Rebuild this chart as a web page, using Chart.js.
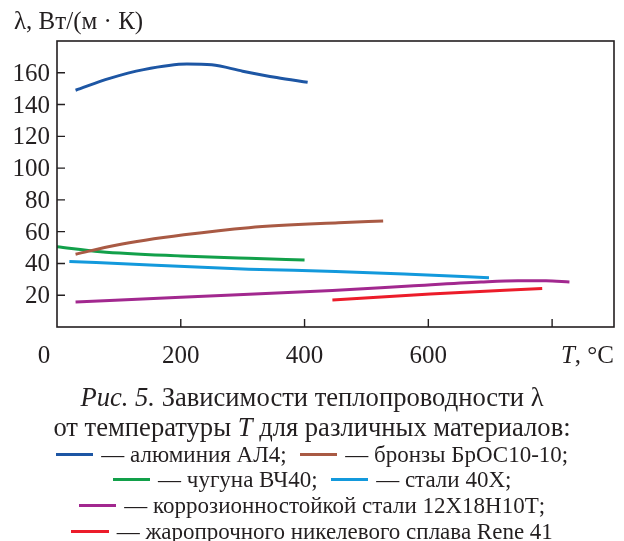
<!DOCTYPE html>
<html>
<head>
<meta charset="utf-8">
<script src="https://cdn.jsdelivr.net/npm/chart.js@4"></script>
<style>
  html, body { margin:0; padding:0; background:#fff; }
  body { width:624px; height:541px; position:relative; overflow:hidden; font-family:"Liberation Serif", serif; color:#231f20; }
  #wrap { position:absolute; left:0; top:0; width:624px; height:375px; }
  #labels { position:absolute; left:0; top:0; width:624px; height:375px; pointer-events:none; font-size:25px; line-height:26px; }
  #labels span { position:absolute; white-space:nowrap; }
  #caption div { position:absolute; left:0; width:624px; text-align:center; line-height:30px; white-space:nowrap; }
  .head { font-size:26.6px; }
  .leg { font-size:23px; }
  .dash { display:inline-block; width:37.5px; height:3px; vertical-align:middle; margin-right:8px; position:relative; top:-2px; }
  .gap { margin-left:13px; }
</style>
</head>
<body>
<div id="wrap"><canvas id="chart"></canvas><div id="labels"></div></div>
<div id="caption"></div>
<script>
// temperature T, °C and conductivity λ, W/(m·K)
const alT  = [30, 85, 140, 210, 250, 300, 355, 405];
const alL  = [149, 156.5, 162, 165.5, 165, 161, 157, 154];
const brT  = [30, 95, 205, 310, 455, 527];
const brL  = [45.8, 51.5, 58, 62.5, 65.6, 66.7];
const ciT  = [0, 70, 200, 310, 400];
const ciL  = [50.5, 47.4, 44.7, 43.2, 42.2];
const stT  = [20, 150, 310, 450, 570, 698];
const stL  = [41.3, 39, 36.4, 35, 33.2, 31];
const ssT  = [30, 200, 445, 570, 685, 745, 790, 828];
const ssL  = [15.7, 18.7, 23, 25.8, 28.3, 29.1, 29.1, 28.3];
const reT  = [445, 603, 784];
const reL  = [17, 20.8, 24.3];

const names  = ['алюминия АЛ4', 'бронзы БрОС10-10', 'чугуна ВЧ40', 'стали 40Х', 'коррозионностойкой стали 12Х18Н10Т', 'жаропрочного никелевого сплава Rene 41'];
const colors = ['#1d56a4', '#a95a44', '#12a04a', '#1399dc', '#a2288f', '#ec1c2a'];
const xTicks = [0, 200, 400, 600, 800];
const yTicks = [20, 40, 60, 80, 100, 120, 140, 160];

const INK = '#231f20';
const pts = (xs, ys) => xs.map((x, i) => ({ x, y: ys[i] }));
const series = [[alT, alL], [brT, brL], [ciT, ciL], [stT, stL], [ssT, ssL], [reT, reL]];

// caption with legend swatches (tops set so baselines match the figure)
const dash = (i, cls) => `<span class="dash${cls ? ' ' + cls : ''}" style="background:${colors[i]}"></span>`;
const item = (i, cls) => `${dash(i, cls)}— ${names[i]}`;
const capLines = [
  ['head', 381.7, '<i>Рис. 5.</i> Зависимости теплопроводности λ'],
  ['head', 411.7, 'от температуры <i>T</i> для различных материалов:'],
  ['leg', 439.7, `${item(0)};${item(1, 'gap')};`],
  ['leg', 465, `${item(2)};${item(3, 'gap')};`],
  ['leg', 491.2, `${item(4)};`],
  ['leg', 517.2, `${item(5)}`]
];
document.getElementById('caption').innerHTML =
  capLines.map(([cls, top, html]) => `<div class="${cls}" style="top:${top}px">${html}</div>`).join('');

// frame, inner ticks and tick labels placed from the scales
const decor = {
  id: 'decor',
  afterDraw(c) {
    const ctx = c.ctx, a = c.chartArea, xs = c.scales.x, ys = c.scales.y;
    ctx.save();
    ctx.strokeStyle = INK; ctx.lineWidth = 1.6;
    ctx.strokeRect(a.left, a.top, a.right - a.left, a.bottom - a.top);
    ctx.lineWidth = 1.4;
    ctx.beginPath();
    xTicks.filter(v => v > 0).forEach(v => { const px = xs.getPixelForValue(v); ctx.moveTo(px, a.bottom); ctx.lineTo(px, a.bottom - 8); });
    yTicks.forEach(v => { const py = ys.getPixelForValue(v); ctx.moveTo(a.left, py); ctx.lineTo(a.left + 8, py); });
    ctx.stroke();
    ctx.restore();

    const W = c.width, ly = a.bottom + 28;
    let h = '';
    yTicks.forEach(v => {
      h += `<span style="right:${W - a.left + 7}px;top:${ys.getPixelForValue(v) - 13}px">${v}</span>`;
    });
    xTicks.forEach(v => {
      const px = xs.getPixelForValue(v);
      if (v === 0) h += `<span style="left:${px - 13}px;top:${ly - 13}px;transform:translateX(-50%)">0</span>`;
      else if (v === 800) h += `<span style="right:${W - a.right}px;top:${ly - 13}px"><i>T</i>, °C</span>`;
      else h += `<span style="left:${px}px;top:${ly - 13}px;transform:translateX(-50%)">${v}</span>`;
    });
    h += `<span style="left:14px;top:8px">λ, Вт/(м · К)</span>`;
    document.getElementById('labels').innerHTML = h;
  }
};

new Chart(document.getElementById('chart'), {
  type: 'line',
  data: {
    datasets: series.map((s, i) => ({
      label: names[i],
      data: pts(s[0], s[1]),
      borderColor: colors[i],
      borderWidth: 3,
      pointRadius: 0,
      fill: false,
      tension: 0.4,
      cubicInterpolationMode: 'monotone'
    }))
  },
  options: {
    responsive: true,
    maintainAspectRatio: false,
    animation: false,
    layout: { padding: { top: 41, right: 10, left: 0, bottom: 0 } },
    plugins: { legend: { display: false }, tooltip: { enabled: false } },
    scales: {
      x: {
        type: 'linear', min: 0, max: 900,
        border: { display: false },
        grid: { display: false },
        afterBuildTicks: s => { s.ticks = xTicks.map(v => ({ value: v })); },
        afterFit: s => { s.height = 48; },
        ticks: { display: false }
      },
      y: {
        min: 0, max: 180,
        border: { display: false },
        grid: { display: false },
        afterBuildTicks: s => { s.ticks = yTicks.map(v => ({ value: v })); },
        afterFit: s => { s.width = 57; },
        ticks: { display: false }
      }
    }
  },
  plugins: [decor]
});
</script>
</body>
</html>
